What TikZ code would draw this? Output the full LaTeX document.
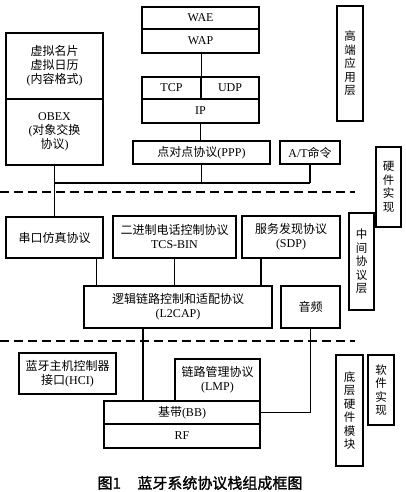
\documentclass[tikz,border=0pt]{standalone}
\usepackage{fontspec}
\setmainfont{Liberation Serif}
\newfontfamily\cjk{Noto Sans CJK SC}
\newfontfamily\cjkb[FakeBold=1.5]{Noto Sans CJK SC}
\usetikzlibrary{calc}
\begin{document}
\begin{tikzpicture}[x=1pt,y=-1pt,
  box/.style={draw,line width=1.3pt,inner sep=0pt,align=center,font=\fontsize{12}{14}\selectfont},
  vbox/.style={draw,line width=1.3pt,inner sep=0pt,align=center,font=\fontsize{11.5}{13.5}\selectfont\cjk},
  conn/.style={line width=1.3pt},
  sep/.style={line width=2.6pt,dash pattern=on 9pt off 5pt}]
\useasboundingbox (0,0) rectangle (405,492);
% top stack
\node[box,minimum width=117pt,minimum height=22pt] (wae) at (200.5,18) {WAE};
\node[box,minimum width=117pt,minimum height=24pt] (wap) at (200.5,41) {WAP};
\node[box,minimum width=59pt,minimum height=22pt] (tcp) at (171.5,88) {TCP};
\node[box,minimum width=58pt,minimum height=22pt] (udp) at (230,88) {UDP};
\node[box,minimum width=117pt,minimum height=24pt] (ip) at (200.5,111) {IP};
\node[box,minimum width=137pt,minimum height=23pt] (ppp) at (201.5,152.5) {{\cjk 点对点协议}(PPP)};
\node[box,minimum width=60pt,minimum height=23pt] (at) at (310,152.5) {A/T{\cjk 命令}};
\node[box,minimum width=97pt,minimum height=66pt] (vcard) at (54.5,66) {{\cjk 虚拟名片}\\{\cjk 虚拟日历}\\({\cjk 内容格式})};
\node[box,minimum width=97pt,minimum height=66pt] (obex) at (54.5,132) {OBEX\\({\cjk 对象交换}\\{\cjk 协议})};
% side labels
\node[vbox,minimum width=26pt,minimum height=115pt] (high) at (350,63.5) {高\\端\\应\\用\\层};
\node[vbox,minimum width=25pt,minimum height=80pt] (hwimpl) at (388.5,187) {硬\\件\\实\\现};
\node[vbox,minimum width=25pt,minimum height=97pt] (mid) at (361.5,261.5) {中\\间\\协\\议\\层};
\node[vbox,minimum width=27pt,minimum height=111pt] (low) at (349.5,410.5) {底\\层\\硬\\件\\模\\块};
\node[vbox,minimum width=26pt,minimum height=70pt] (swimpl) at (381,390) {软\\件\\实\\现};
% middle layer
\node[box,minimum width=97pt,minimum height=41pt] (serial) at (54.5,237.5) {\cjk 串口仿真协议};
\node[box,minimum width=123pt,minimum height=42pt] (tcs) at (174.5,237) {{\cjk 二进制电话控制协议}\\TCS-BIN};
\node[box,minimum width=98pt,minimum height=42pt] (sdp) at (291,237) {{\cjk 服务发现协议}\\(SDP)};
\node[box,minimum width=188pt,minimum height=42pt] (l2cap) at (178,307) {{\cjk 逻辑链路控制和适配协议}\\(L2CAP)};
\node[box,minimum width=59pt,minimum height=42pt] (audio) at (310.5,307) {\cjk 音频};
% bottom layer
\node[box,minimum width=97pt,minimum height=41pt] (hci) at (67.5,373.5) {{\cjk 蓝牙主机控制器}\\{\cjk 接口}(HCI)};
\node[box,minimum width=85pt,minimum height=42pt] (lmp) at (217.5,380) {{\cjk 链路管理协议}\\(LMP)};
\node[box,minimum width=156pt,minimum height=23pt] (bb) at (182,412.5) {{\cjk 基带}(BB)};
\node[box,minimum width=156pt,minimum height=24pt] (rf) at (182,436) {RF};
% caption
\node[font=\fontsize{15}{17}\selectfont\cjkb] (cap) at (200,483) {图1\hspace{1.1em}蓝牙系统协议栈组成框图};
% dashed separators
\coordinate (d1a) at (0,192); \coordinate (d1b) at (355,192);
\coordinate (d2a) at (0,341); \coordinate (d2b) at (355,341);
\draw[sep] (d1a) -- (d1b);
\draw[sep] (d2a) -- (d2b);
% connectors
\draw[conn] (tcp.north east |- wap.south) -- (tcp.north east);
\draw[conn] (ip.south) -- (ip.south |- ppp.north);
\coordinate (j) at (54.5,183);
\draw[conn] (obex.south) -- (serial.north);
\draw[conn] (ppp.south) -- (ppp.south |- j);
\draw[conn] (at.south) -- (at.south |- j);
\draw[conn] (j) -- (at.south |- j);
\draw[conn] ([xshift=-7pt]serial.south east) -- ([xshift=-7pt]serial.south east |- l2cap.north);
\draw[conn] (tcs.south) -- (tcs.south |- l2cap.north);
\draw[conn] ([xshift=-30pt]sdp.south) -- ([xshift=-30pt]sdp.south |- l2cap.north);
\draw[conn] ([xshift=-35pt]l2cap.south) -- ([xshift=-35pt]l2cap.south |- bb.north);
\draw[conn] (audio.south) |- (bb.east);
\end{tikzpicture}
\end{document}
